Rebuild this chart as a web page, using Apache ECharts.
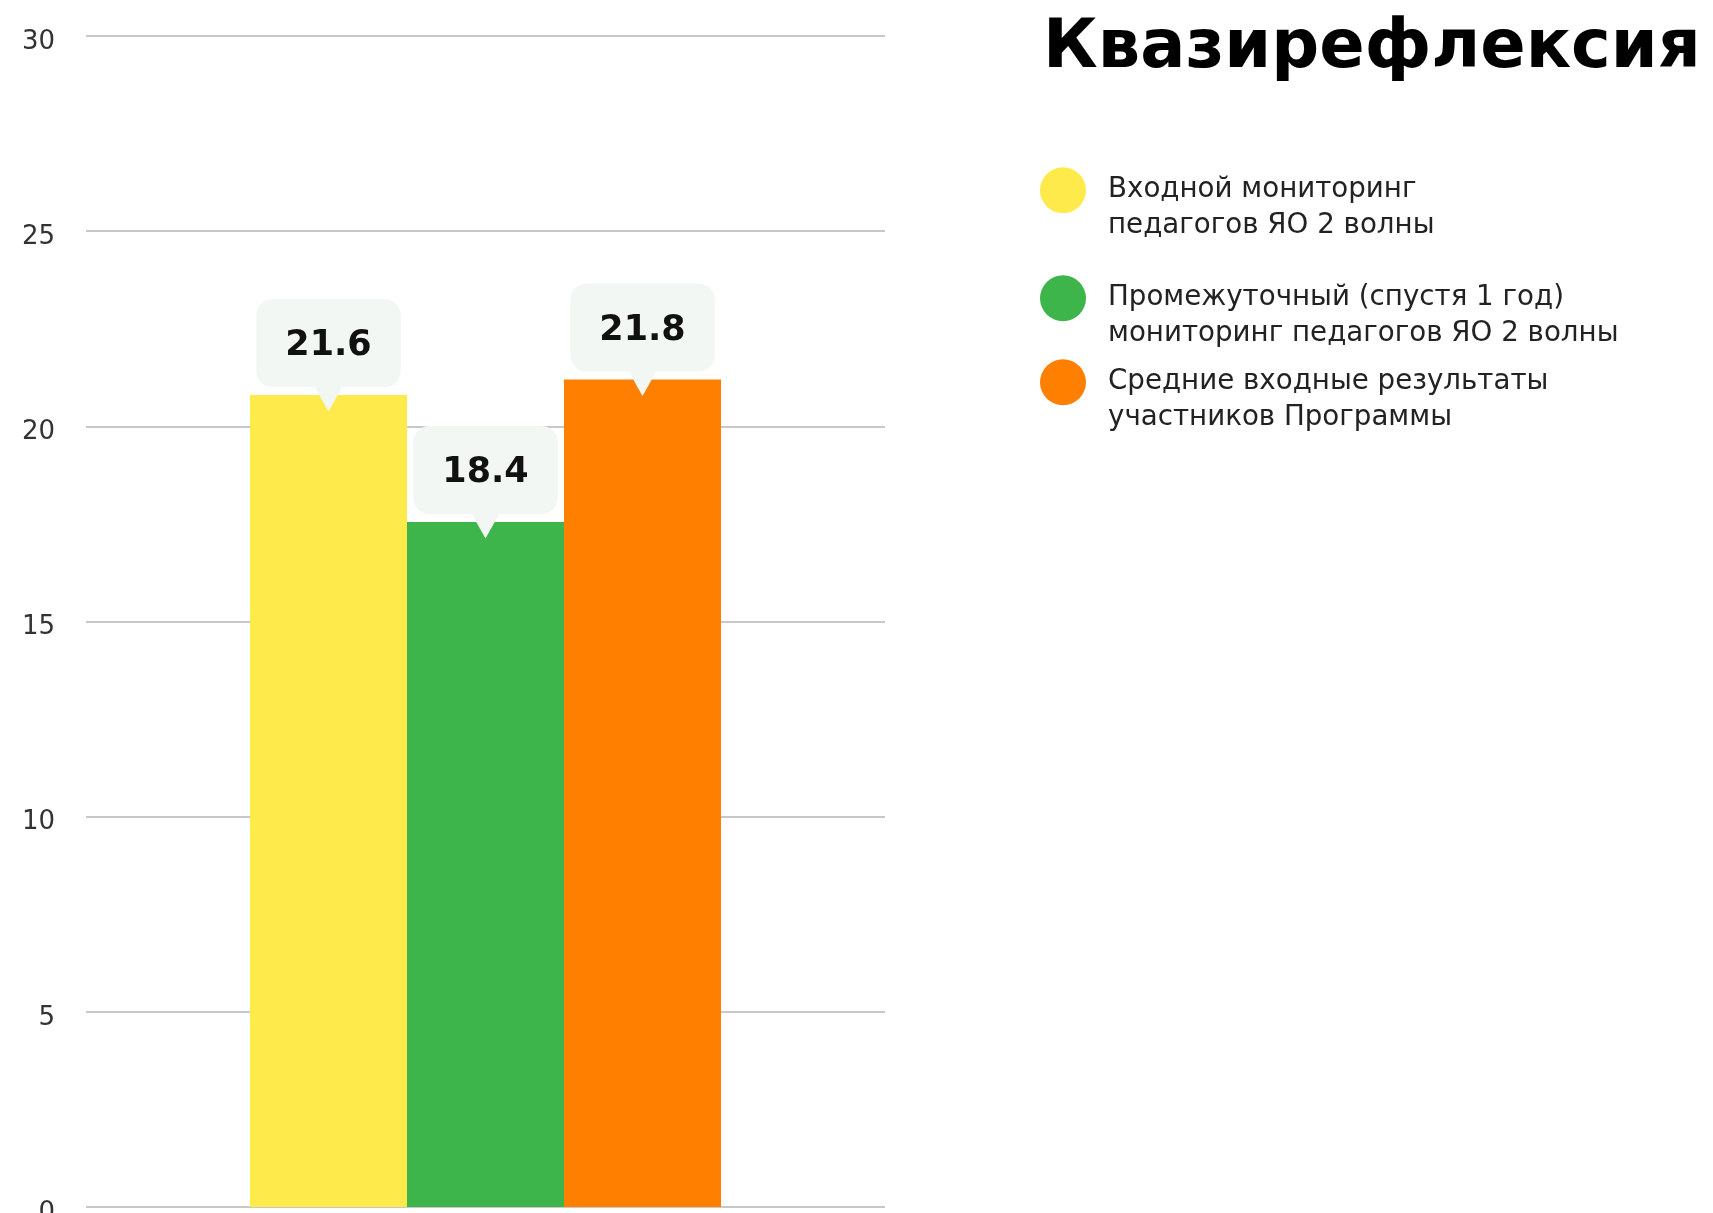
<!DOCTYPE html>
<html>
<head>
<meta charset="utf-8">
<script src="https://cdn.jsdelivr.net/npm/echarts@6/dist/echarts.min.js"></script>
<style>
  html, body { margin: 0; padding: 0; background: #fff; }
  #chart { width: 1713px; height: 1213px; }
</style>
</head>
<body>
<div id="chart"></div>
<script>
// данные
const categories = [''];
const seriesNames = [
  'Входной мониторинг\nпедагогов ЯО 2 волны',
  'Промежуточный (спустя 1 год)\nмониторинг педагогов ЯО 2 волны',
  'Средние входные результаты\nучастников Программы'
];
const barValues = [20.8, 17.55, 21.2];
const valueLabels = ['21.6', '18.4', '21.8'];
const titleText = 'Квазирефлексия';

const colors = ['#FEEA4B', '#3DB54A', '#FF7F00'];
const boxColor = '#F3F7F4';
const legendTops = [132, 240, 324];

let series = seriesNames.map((name, i) => ({
  name: name,
  type: 'bar',
  barWidth: 157,
  barGap: '0%',
  data: [barValues[i]],
  itemStyle: {color: colors[i]},
  label: {
    show: true,
    position: 'top',
    distance: 8,
    formatter: () => valueLabels[i],
    backgroundColor: boxColor,
    borderRadius: 16,
    padding: [27, 29, 21, 29],
    fontFamily: 'DejaVu Sans',
    fontWeight: 'bold',
    fontSize: 35,
    lineHeight: 40,
    color: '#111'
  },
  markPoint: {
    silent: true,
    symbol: 'triangle',
    symbolRotate: 180,
    symbolSize: [28, 25],
    symbolOffset: [0, 4],
    itemStyle: {color: boxColor},
    label: {show: false},
    data: [{type: 'max'}]
  }
}));

// по одной легенде на серию, первая строка текста напротив кружка
let legends = seriesNames.map((name, i) => ({
  data: [name],
  left: 1035,
  top: legendTops[i],
  orient: 'vertical',
  icon: 'circle',
  itemWidth: 46,
  itemHeight: 46,
  selectedMode: false,
  formatter: n => '\n' + n,
  textStyle: {
    fontFamily: 'DejaVu Sans',
    fontSize: 27.7,
    lineHeight: 35.5,
    color: '#222',
    padding: [0, 0, 0, 17]
  }
}));

let option = {
  animation: false,
  backgroundColor: '#fff',
  title: {
    text: titleText,
    left: 1038,
    top: 5,
    textStyle: {
      fontFamily: 'DejaVu Sans',
      fontWeight: 'bold',
      fontSize: 67,
      lineHeight: 80,
      color: '#000'
    }
  },
  legend: legends,
  grid: {left: 86, right: 828, top: 36, bottom: 6, outerBoundsMode: 'none'},
  xAxis: {
    type: 'category',
    data: categories,
    axisLine: {show: false},
    axisTick: {show: false},
    axisLabel: {show: false}
  },
  yAxis: {
    type: 'value',
    min: 0,
    max: 30,
    interval: 5,
    axisLine: {show: false},
    axisTick: {show: false},
    axisLabel: {
      margin: 31,
      verticalAlign: 'top',
      lineHeight: 12,
      fontFamily: 'DejaVu Sans',
      fontSize: 26,
      color: '#333'
    },
    splitLine: {lineStyle: {color: '#C8C8C8', width: 2}}
  },
  series: series
};

let myChart = echarts.init(document.getElementById('chart'));
myChart.setOption(option);
</script>
</body>
</html>
